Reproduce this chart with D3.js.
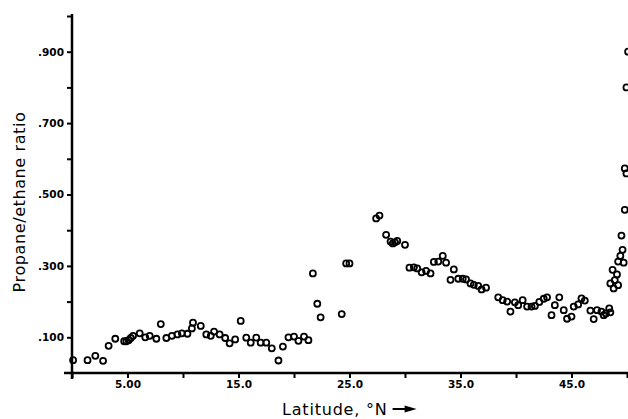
<!DOCTYPE html>
<html>
<head>
<meta charset="utf-8">
<script src="https://cdn.jsdelivr.net/npm/d3@7"></script>
<style>
  html, body { margin: 0; padding: 0; background: #fff; }
  svg { display: block; }
</style>
</head>
<body>
<svg id="chart" width="628" height="419"></svg>
<script>
// latitude (deg N) and propane/ethane ratio
const latitude = [
  0.1, 1.4, 2.1, 2.8, 3.3, 3.9, 4.7, 4.9, 5.1, 5.3,
  5.5, 6.1, 6.6, 7.0, 7.6, 8.0, 8.5, 9.0, 9.5, 9.9,
  10.4, 10.8, 10.9, 11.6, 12.1, 12.5, 12.8, 13.3, 13.8, 14.2,
  14.7, 15.2, 15.7, 16.1, 16.6, 17.0, 17.5, 18.0, 18.6, 19.0,
  19.5, 20.0, 20.4, 20.9, 21.3, 21.7, 22.1, 22.4, 24.3, 24.7,
  25.0, 27.4, 27.7, 28.3, 28.7, 28.9, 29.1, 29.3, 30.0, 30.4,
  30.8, 31.1, 31.5, 31.9, 32.3, 32.6, 33.0, 33.4, 33.7, 34.1,
  34.4, 34.8, 35.2, 35.5, 35.9, 36.2, 36.6, 36.9, 37.3, 38.4,
  38.8, 39.2, 39.5, 39.9, 40.2, 40.6, 41.0, 41.4, 41.7, 42.1,
  42.5, 42.8, 43.2, 43.5, 43.9, 44.3, 44.6, 45.0, 45.2, 45.6,
  45.9, 46.2, 46.7, 47.0, 47.3, 47.7, 47.9, 48.1, 48.4, 48.5,
  48.5, 48.7, 48.8, 48.9, 49.1, 49.2, 49.2, 49.4, 49.6, 49.7,
  49.5, 49.8, 49.8, 49.95, 49.95, 50.1
];
const ratio = [
  0.036, 0.036, 0.048, 0.034, 0.076, 0.096, 0.089, 0.089, 0.092, 0.098,
  0.104, 0.111, 0.100, 0.104, 0.096, 0.137, 0.098, 0.104, 0.108, 0.111,
  0.110, 0.125, 0.141, 0.132, 0.108, 0.104, 0.116, 0.108, 0.098, 0.083,
  0.094, 0.146, 0.099, 0.085, 0.099, 0.085, 0.085, 0.069, 0.035, 0.074,
  0.100, 0.102, 0.090, 0.102, 0.092, 0.279, 0.194, 0.156, 0.165, 0.307,
  0.307, 0.433, 0.441, 0.387, 0.368, 0.363, 0.366, 0.370, 0.359, 0.295,
  0.296, 0.293, 0.282, 0.286, 0.279, 0.311, 0.312, 0.328, 0.309, 0.261,
  0.290, 0.264, 0.264, 0.262, 0.251, 0.247, 0.244, 0.234, 0.239, 0.212,
  0.204, 0.200, 0.172, 0.198, 0.190, 0.204, 0.186, 0.186, 0.188, 0.199,
  0.208, 0.212, 0.162, 0.190, 0.212, 0.176, 0.152, 0.158, 0.186, 0.192,
  0.209, 0.203, 0.175, 0.151, 0.176, 0.172, 0.162, 0.167, 0.181, 0.170,
  0.251, 0.289, 0.237, 0.260, 0.276, 0.246, 0.312, 0.328, 0.345, 0.309,
  0.385, 0.457, 0.573, 0.559, 0.800, 0.900
];

const xTicks = [0, 5, 10, 15, 20, 25, 30, 35, 40, 45, 50];
const xTickLabels = ['', '5.00', '', '15.0', '', '25.0', '', '35.0', '', '45.0', ''];
const yTicks = [0.1, 0.2, 0.3, 0.4, 0.5, 0.6, 0.7, 0.8, 0.9, 1.0];
const yTickLabels = ['.100', '', '.300', '', '.500', '', '.700', '', '.900', ''];

const svg = d3.select('#chart');
const font = '"DejaVu Sans", sans-serif';

const x = d3.scaleLinear().domain([0, 50]).range([72, 627]);
const y = d3.scaleLinear().domain([0, 1]).range([373, 16]);

const points = latitude.map((d, i) => ({ lat: d, r: ratio[i] }));

// axes
const xAxis = d3.axisBottom(x)
  .tickValues(xTicks)
  .tickFormat((d, i) => xTickLabels[i])
  .tickSize(5)
  .tickPadding(3)
  .tickSizeOuter(0);

const yAxis = d3.axisLeft(y)
  .tickValues(yTicks)
  .tickFormat((d, i) => yTickLabels[i])
  .tickSize(5)
  .tickPadding(3)
  .tickSizeOuter(0);

const gx = svg.append('g')
  .attr('transform', `translate(0,${y(0)})`)
  .call(xAxis);

const gy = svg.append('g')
  .attr('transform', `translate(${x(0)},0)`)
  .call(yAxis);

[gx, gy].forEach(g => {
  g.select('.domain').remove();
  g.selectAll('.tick line').attr('stroke', '#000').attr('stroke-width', 2);
  g.selectAll('.tick text')
    .attr('fill', '#000')
    .attr('font-family', font)
    .attr('font-weight', 'bold')
    .attr('font-size', 10.5);
});

// axis lines drawn a little past the corner, plotter style
svg.append('line')
  .attr('x1', x(0) - 8).attr('x2', x(50) + 2)
  .attr('y1', y(0)).attr('y2', y(0))
  .attr('stroke', '#000').attr('stroke-width', 2.5);

svg.append('line')
  .attr('x1', x(0)).attr('x2', x(0))
  .attr('y1', y(1.0) - 2).attr('y2', y(0) + 6)
  .attr('stroke', '#000').attr('stroke-width', 2.5);

// data
svg.append('g')
  .selectAll('circle')
  .data(points)
  .join('circle')
  .attr('cx', d => x(d.lat))
  .attr('cy', d => y(d.r))
  .attr('r', 3)
  .attr('fill', 'none')
  .attr('stroke', '#000')
  .attr('stroke-width', 1.8);

// titles
svg.append('text')
  .attr('transform', `translate(25,202) rotate(-90)`)
  .attr('text-anchor', 'middle')
  .attr('font-family', font)
  .attr('font-size', 16)
  .attr('letter-spacing', 0.6)
  .attr('fill', '#000')
  .text('Propane/ethane ratio');

const xTitle = svg.append('text')
  .attr('x', 282)
  .attr('y', 415)
  .attr('font-family', font)
  .attr('font-size', 16)
  .attr('letter-spacing', 0.8)
  .attr('fill', '#000')
  .text('Latitude, \u00B0N');

const tw = xTitle.node().getComputedTextLength();
const ax = 282 + tw + 5;
svg.append('line')
  .attr('x1', ax).attr('x2', ax + 16)
  .attr('y1', 409).attr('y2', 409)
  .attr('stroke', '#000').attr('stroke-width', 2);
svg.append('path')
  .attr('d', `M${ax + 12},405.5L${ax + 24},409L${ax + 12},412.5Z`)
  .attr('fill', '#000');
</script>
</body>
</html>
